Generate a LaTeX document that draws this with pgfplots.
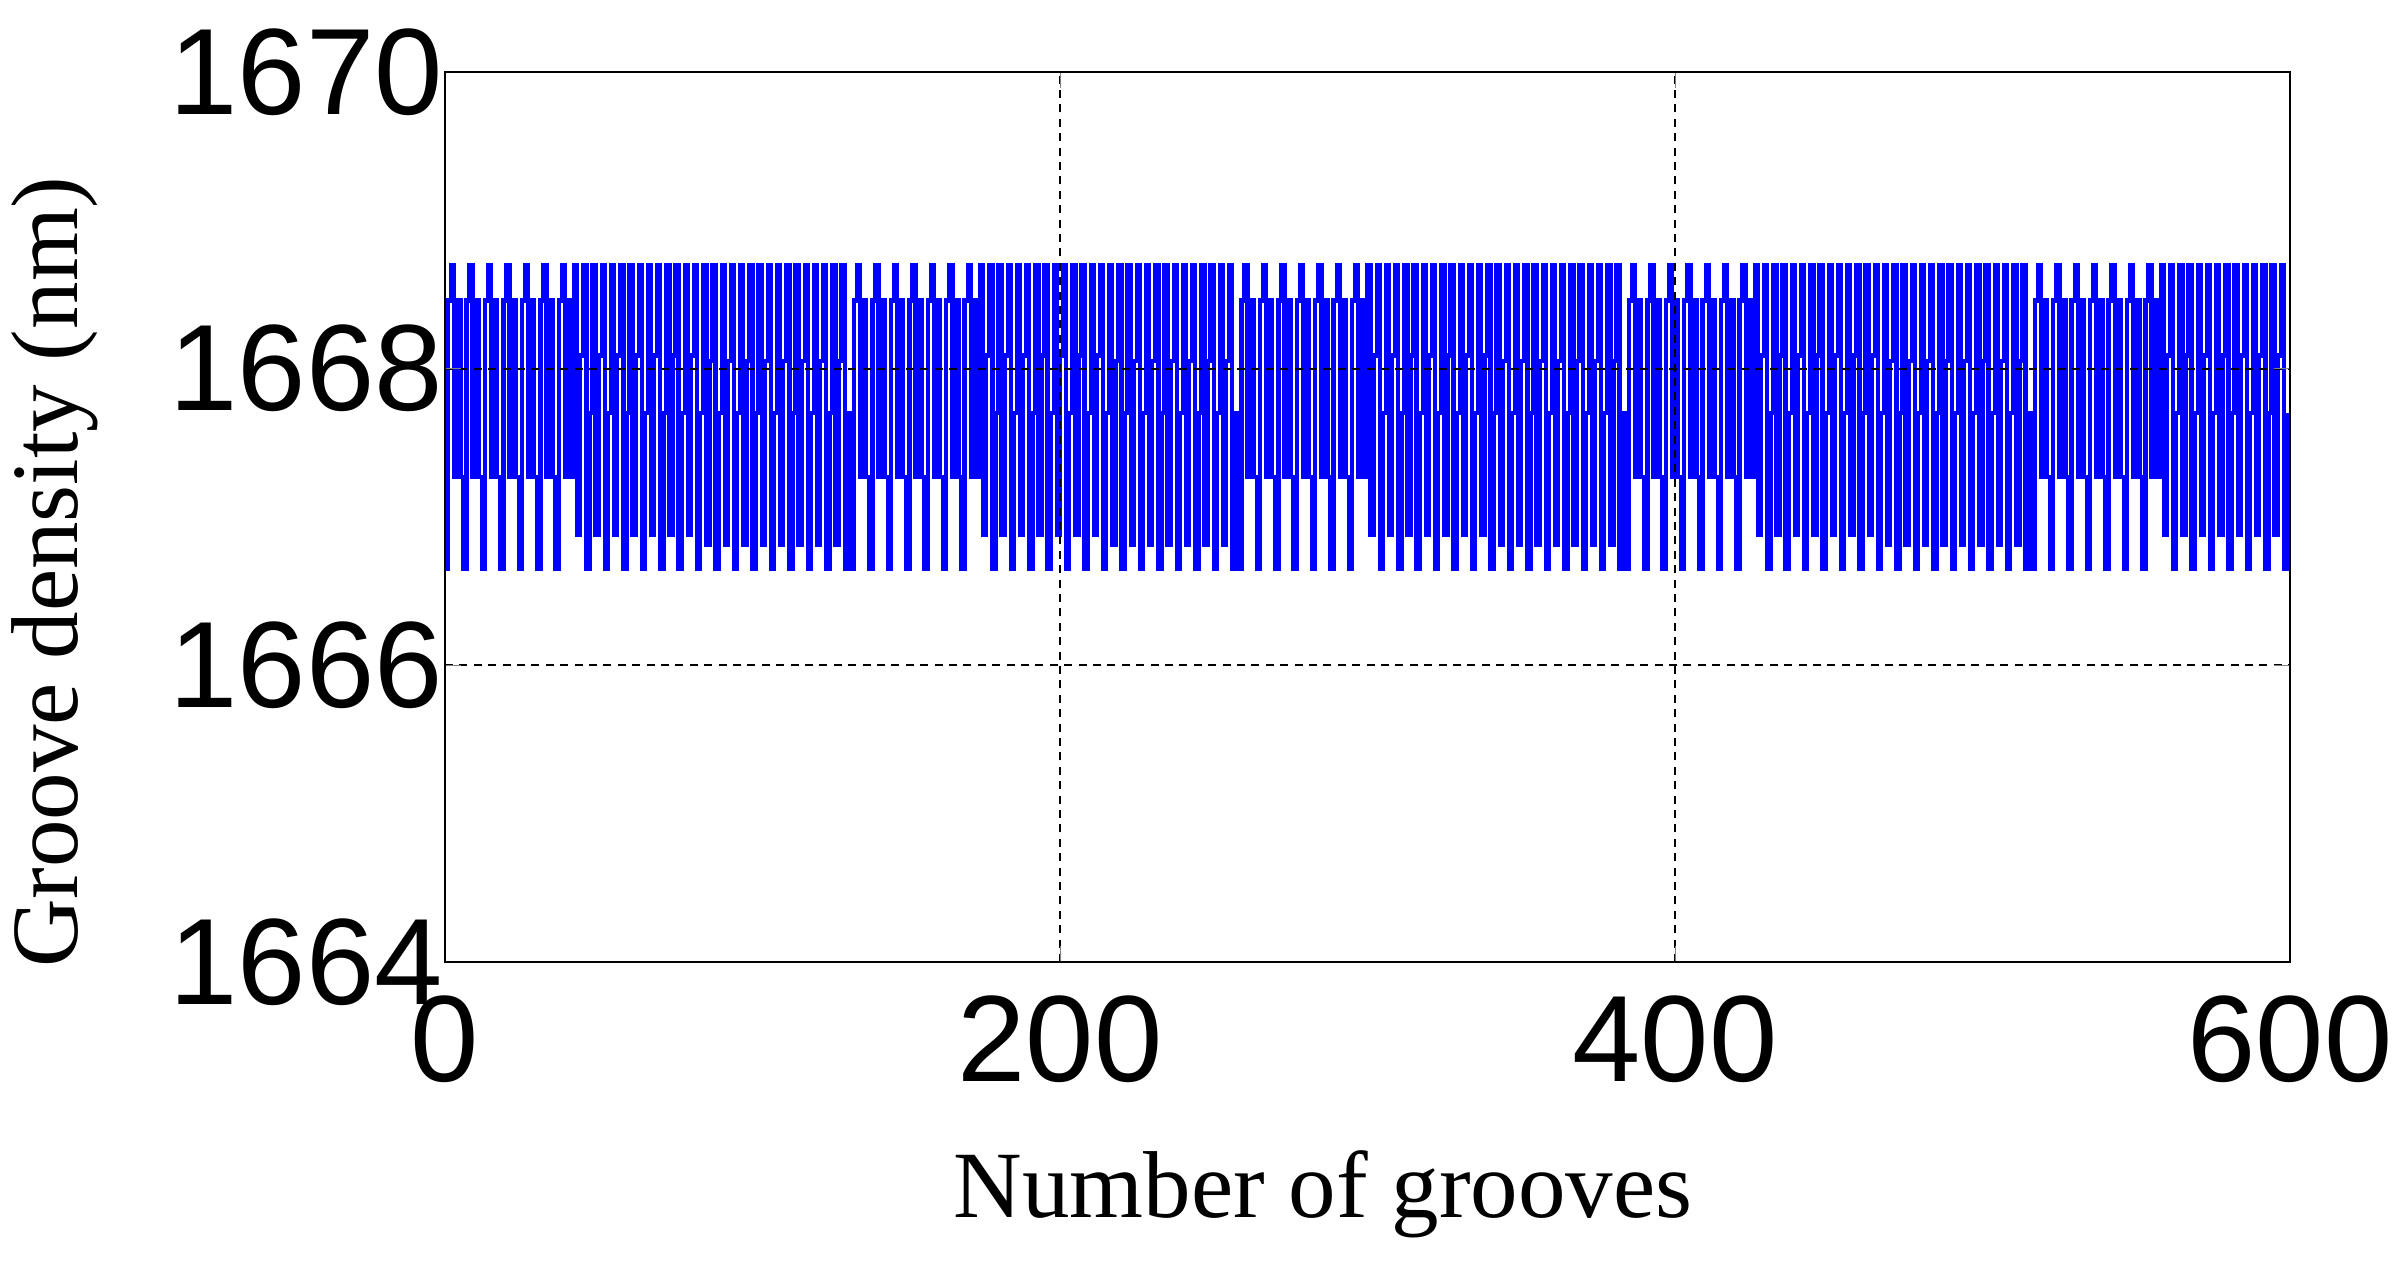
\documentclass[border=0pt]{standalone}
\usepackage{fontspec}
\setmainfont{Liberation Serif}
\newfontfamily\arial{Liberation Sans}
\usepackage{pgfplots}
\usepackage{pgfplotstable}
\pgfplotsset{compat=1.18}

% groove density per groove, one cycle of six grooves per line
\pgfplotstableread[row sep=\\]{
y\\
1666.65\\ 1668.46\\ 1668.70\\ 1667.27\\ 1668.46\\ 1667.27\\
1666.65\\ 1668.46\\ 1668.70\\ 1667.27\\ 1668.46\\ 1667.27\\
1666.65\\ 1668.46\\ 1668.70\\ 1667.27\\ 1668.46\\ 1667.27\\
1666.65\\ 1668.46\\ 1668.70\\ 1667.27\\ 1668.46\\ 1667.27\\
1666.65\\ 1668.46\\ 1668.70\\ 1667.27\\ 1668.46\\ 1667.27\\
1666.65\\ 1668.46\\ 1668.70\\ 1667.27\\ 1668.46\\ 1667.27\\
1666.65\\ 1668.46\\ 1668.70\\ 1667.27\\ 1668.46\\ 1667.27\\
1668.70\\ 1666.88\\ 1668.09\\ 1668.70\\ 1666.65\\ 1667.70\\
1668.70\\ 1666.88\\ 1668.09\\ 1668.70\\ 1666.65\\ 1667.70\\
1668.70\\ 1666.88\\ 1668.09\\ 1668.70\\ 1666.65\\ 1667.70\\
1668.70\\ 1666.88\\ 1668.09\\ 1668.70\\ 1666.65\\ 1667.70\\
1668.70\\ 1666.88\\ 1668.09\\ 1668.70\\ 1666.65\\ 1667.70\\
1668.70\\ 1666.88\\ 1668.09\\ 1668.70\\ 1666.65\\ 1667.70\\
1668.70\\ 1666.88\\ 1668.09\\ 1668.70\\ 1666.65\\ 1667.70\\
1668.70\\ 1666.81\\ 1668.05\\ 1668.70\\ 1666.65\\ 1667.70\\
1668.70\\ 1666.81\\ 1668.05\\ 1668.70\\ 1666.65\\ 1667.70\\
1668.70\\ 1666.81\\ 1668.05\\ 1668.70\\ 1666.65\\ 1667.70\\
1668.70\\ 1666.81\\ 1668.05\\ 1668.70\\ 1666.65\\ 1667.70\\
1668.70\\ 1666.81\\ 1668.05\\ 1668.70\\ 1666.65\\ 1667.70\\
1668.70\\ 1666.81\\ 1668.05\\ 1668.70\\ 1666.65\\ 1667.70\\
1668.70\\ 1666.81\\ 1668.05\\ 1668.70\\ 1666.65\\ 1667.70\\
1668.70\\ 1666.81\\ 1668.05\\ 1668.70\\ 1666.65\\ 1667.70\\
1666.65\\ 1668.46\\ 1668.70\\ 1667.27\\ 1668.46\\ 1667.27\\
1666.65\\ 1668.46\\ 1668.70\\ 1667.27\\ 1668.46\\ 1667.27\\
1666.65\\ 1668.46\\ 1668.70\\ 1667.27\\ 1668.46\\ 1667.27\\
1666.65\\ 1668.46\\ 1668.70\\ 1667.27\\ 1668.46\\ 1667.27\\
1666.65\\ 1668.46\\ 1668.70\\ 1667.27\\ 1668.46\\ 1667.27\\
1666.65\\ 1668.46\\ 1668.70\\ 1667.27\\ 1668.46\\ 1667.27\\
1666.65\\ 1668.46\\ 1668.70\\ 1667.27\\ 1668.46\\ 1667.27\\
1668.70\\ 1666.88\\ 1668.09\\ 1668.70\\ 1666.65\\ 1667.70\\
1668.70\\ 1666.88\\ 1668.09\\ 1668.70\\ 1666.65\\ 1667.70\\
1668.70\\ 1666.88\\ 1668.09\\ 1668.70\\ 1666.65\\ 1667.70\\
1668.70\\ 1666.88\\ 1668.09\\ 1668.70\\ 1666.65\\ 1667.70\\
1668.70\\ 1666.88\\ 1668.09\\ 1668.70\\ 1666.65\\ 1667.70\\
1668.70\\ 1666.88\\ 1668.09\\ 1668.70\\ 1666.65\\ 1667.70\\
1668.70\\ 1666.88\\ 1668.09\\ 1668.70\\ 1666.65\\ 1667.70\\
1668.70\\ 1666.81\\ 1668.05\\ 1668.70\\ 1666.65\\ 1667.70\\
1668.70\\ 1666.81\\ 1668.05\\ 1668.70\\ 1666.65\\ 1667.70\\
1668.70\\ 1666.81\\ 1668.05\\ 1668.70\\ 1666.65\\ 1667.70\\
1668.70\\ 1666.81\\ 1668.05\\ 1668.70\\ 1666.65\\ 1667.70\\
1668.70\\ 1666.81\\ 1668.05\\ 1668.70\\ 1666.65\\ 1667.70\\
1668.70\\ 1666.81\\ 1668.05\\ 1668.70\\ 1666.65\\ 1667.70\\
1668.70\\ 1666.81\\ 1668.05\\ 1668.70\\ 1666.65\\ 1667.70\\
1666.65\\ 1668.46\\ 1668.70\\ 1667.27\\ 1668.46\\ 1667.27\\
1666.65\\ 1668.46\\ 1668.70\\ 1667.27\\ 1668.46\\ 1667.27\\
1666.65\\ 1668.46\\ 1668.70\\ 1667.27\\ 1668.46\\ 1667.27\\
1666.65\\ 1668.46\\ 1668.70\\ 1667.27\\ 1668.46\\ 1667.27\\
1666.65\\ 1668.46\\ 1668.70\\ 1667.27\\ 1668.46\\ 1667.27\\
1666.65\\ 1668.46\\ 1668.70\\ 1667.27\\ 1668.46\\ 1667.27\\
1666.65\\ 1668.46\\ 1668.70\\ 1667.27\\ 1668.46\\ 1667.27\\
1668.70\\ 1666.88\\ 1668.09\\ 1668.70\\ 1666.65\\ 1667.70\\
1668.70\\ 1666.88\\ 1668.09\\ 1668.70\\ 1666.65\\ 1667.70\\
1668.70\\ 1666.88\\ 1668.09\\ 1668.70\\ 1666.65\\ 1667.70\\
1668.70\\ 1666.88\\ 1668.09\\ 1668.70\\ 1666.65\\ 1667.70\\
1668.70\\ 1666.88\\ 1668.09\\ 1668.70\\ 1666.65\\ 1667.70\\
1668.70\\ 1666.88\\ 1668.09\\ 1668.70\\ 1666.65\\ 1667.70\\
1668.70\\ 1666.88\\ 1668.09\\ 1668.70\\ 1666.65\\ 1667.70\\
1668.70\\ 1666.81\\ 1668.05\\ 1668.70\\ 1666.65\\ 1667.70\\
1668.70\\ 1666.81\\ 1668.05\\ 1668.70\\ 1666.65\\ 1667.70\\
1668.70\\ 1666.81\\ 1668.05\\ 1668.70\\ 1666.65\\ 1667.70\\
1668.70\\ 1666.81\\ 1668.05\\ 1668.70\\ 1666.65\\ 1667.70\\
1668.70\\ 1666.81\\ 1668.05\\ 1668.70\\ 1666.65\\ 1667.70\\
1668.70\\ 1666.81\\ 1668.05\\ 1668.70\\ 1666.65\\ 1667.70\\
1668.70\\ 1666.81\\ 1668.05\\ 1668.70\\ 1666.65\\ 1667.70\\
1666.65\\ 1668.46\\ 1668.70\\ 1667.27\\ 1668.46\\ 1667.27\\
1666.65\\ 1668.46\\ 1668.70\\ 1667.27\\ 1668.46\\ 1667.27\\
1666.65\\ 1668.46\\ 1668.70\\ 1667.27\\ 1668.46\\ 1667.27\\
1666.65\\ 1668.46\\ 1668.70\\ 1667.27\\ 1668.46\\ 1667.27\\
1666.65\\ 1668.46\\ 1668.70\\ 1667.27\\ 1668.46\\ 1667.27\\
1666.65\\ 1668.46\\ 1668.70\\ 1667.27\\ 1668.46\\ 1667.27\\
1666.65\\ 1668.46\\ 1668.70\\ 1667.27\\ 1668.46\\ 1667.27\\
1668.70\\ 1666.88\\ 1668.09\\ 1668.70\\ 1666.65\\ 1667.70\\
1668.70\\ 1666.88\\ 1668.09\\ 1668.70\\ 1666.65\\ 1667.70\\
1668.70\\ 1666.88\\ 1668.09\\ 1668.70\\ 1666.65\\ 1667.70\\
1668.70\\ 1666.88\\ 1668.09\\ 1668.70\\ 1666.65\\ 1667.70\\
1668.70\\ 1666.88\\ 1668.09\\ 1668.70\\ 1666.65\\ 1667.70\\
1668.70\\ 1666.88\\ 1668.09\\ 1668.70\\ 1666.65\\ 1667.70\\
1668.70\\ 1666.88\\ 1668.09\\ 1668.70\\ 1666.65\\ 1667.70\\
1668.70\\ 1666.81\\ 1668.05\\ 1668.70\\ 1666.65\\ 1667.70\\
1668.70\\ 1666.81\\ 1668.05\\ 1668.70\\ 1666.65\\ 1667.70\\
1668.70\\ 1666.81\\ 1668.05\\ 1668.70\\ 1666.65\\ 1667.70\\
1668.70\\ 1666.81\\ 1668.05\\ 1668.70\\ 1666.65\\ 1667.70\\
1668.70\\ 1666.81\\ 1668.05\\ 1668.70\\ 1666.65\\ 1667.70\\
1668.70\\ 1666.81\\ 1668.05\\ 1668.70\\ 1666.65\\ 1667.70\\
1668.70\\ 1666.81\\ 1668.05\\ 1668.70\\ 1666.65\\ 1667.70\\
1668.70\\ 1666.81\\ 1668.05\\ 1668.70\\ 1666.65\\ 1667.70\\
1666.65\\ 1668.46\\ 1668.70\\ 1667.27\\ 1668.46\\ 1667.27\\
1666.65\\ 1668.46\\ 1668.70\\ 1667.27\\ 1668.46\\ 1667.27\\
1666.65\\ 1668.46\\ 1668.70\\ 1667.27\\ 1668.46\\ 1667.27\\
1666.65\\ 1668.46\\ 1668.70\\ 1667.27\\ 1668.46\\ 1667.27\\
1666.65\\ 1668.46\\ 1668.70\\ 1667.27\\ 1668.46\\ 1667.27\\
1666.65\\ 1668.46\\ 1668.70\\ 1667.27\\ 1668.46\\ 1667.27\\
1666.65\\ 1668.46\\ 1668.70\\ 1667.27\\ 1668.46\\ 1667.27\\
1668.70\\ 1666.88\\ 1668.09\\ 1668.70\\ 1666.65\\ 1667.70\\
1668.70\\ 1666.88\\ 1668.09\\ 1668.70\\ 1666.65\\ 1667.70\\
1668.70\\ 1666.88\\ 1668.09\\ 1668.70\\ 1666.65\\ 1667.70\\
1668.70\\ 1666.88\\ 1668.09\\ 1668.70\\ 1666.65\\ 1667.70\\
1668.70\\ 1666.88\\ 1668.09\\ 1668.70\\ 1666.65\\ 1667.70\\
1668.70\\ 1666.88\\ 1668.09\\ 1668.70\\ 1666.65\\ 1667.70\\
1668.70\\ 1666.88\\ 1668.09\\ 1668.70\\ 1666.65\\ 1667.70\\
}\groove

\begin{document}
\begin{tikzpicture}
\begin{axis}[
    at={(0,0)}, anchor=south west,
    scale only axis,
    width=461.25pt, height=222.5pt,
    xmin=0, xmax=600,
    ymin=1664, ymax=1670,
    xtick={0,200,400,600},
    ytick={1664,1666,1668,1670},
    /pgf/number format/assume math mode=true,
    /pgf/number format/1000 sep={},
    tick label style={font=\arial\fontsize{30.7}{36}\selectfont},
    xticklabel style={yshift=-5pt},
    yticklabel style={xshift=3pt},
    tick align=inside,
    major tick length=4pt,
    axis line style={line width=0.6pt},
    grid=major,
    major grid style={black, line width=0.45pt, dash pattern=on 2pt off 1.6pt},
    axis on top,
    xlabel={Number of grooves},
    ylabel={Groove density (nm)},
    label style={font=\fontsize{23.75}{28}\selectfont},
    x label style={at={(axis description cs:0.476,0)}, anchor=base, yshift=-64pt},
    y label style={at={(axis description cs:-0.2114,0.438)}, anchor=center},
]
\addplot[blue, line width=1.1pt, const plot] table[x expr=\coordindex, y=y] {\groove};
\end{axis}
\pgfresetboundingbox
\path (-111.25pt,-77.75pt) rectangle (489.25pt,240.5pt);
\end{tikzpicture}
\end{document}
